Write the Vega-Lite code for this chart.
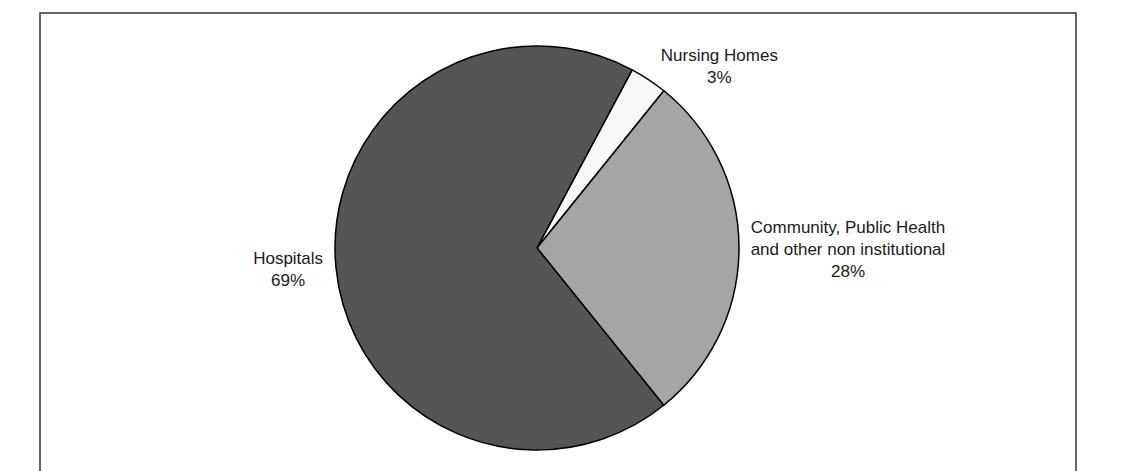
{
  "$schema": "https://vega.github.io/schema/vega-lite/v6.json",
  "width": 1036,
  "height": 470,
  "padding": {"left": 40, "top": 13, "right": 66, "bottom": 0},
  "background": "white",
  "view": {"stroke": "#333333", "strokeWidth": 1.5},
  "config": {
    "view": {"stroke": "#333333", "strokeWidth": 1.5},
    "text": {"font": "Liberation Sans", "fontSize": 17, "fill": "#1a1a1a", "lineHeight": 22, "lineBreak": "\n"}
  },
  "data": {
    "values": [
      {"category": "Nursing Homes", "value": 3.0, "label": "Nursing Homes\n3%"},
      {"category": "Community, Public Health and other non institutional", "value": 28.4, "label": "Community, Public Health\nand other non institutional\n28%"},
      {"category": "Hospitals", "value": 68.6, "label": "Hospitals\n69%"}
    ]
  },
  "transform": [
    {"stack": "value", "groupby": [], "sort": [{"field": "value", "order": "ascending"}], "as": ["v0", "v1"]},
    {"calculate": "(datum.v0 + datum.v1) / 2", "as": "vmid"}
  ],
  "layer": [
    {
      "mark": {"type": "arc", "outerRadius": 202, "stroke": "#000000", "strokeWidth": 1.5, "xOffset": -21},
      "encoding": {
        "theta": {"field": "v0", "type": "quantitative", "scale": {"domain": [0, 100], "range": [0.4904, 6.7736]}},
        "theta2": {"field": "v1"},
        "color": {
          "field": "category",
          "type": "nominal",
          "legend": null,
          "scale": {
            "domain": ["Nursing Homes", "Community, Public Health and other non institutional", "Hospitals"],
            "range": ["#f7f7f7", "#a5a5a5", "#555555"]
          }
        }
      }
    },
    {
      "mark": {"type": "rule", "opacity": 0},
      "encoding": {"x": {"datum": 0, "type": "quantitative", "axis": null, "scale": {"domain": [0, 1]}}}
    },
    {
      "transform": [{"filter": "datum.category == 'Hospitals'"}],
      "mark": {"type": "text", "radius": 250, "align": "center", "baseline": "middle", "xOffset": -21, "dy": -12},
      "encoding": {
        "theta": {"field": "vmid", "type": "quantitative", "scale": {"domain": [0, 100], "range": [0.4904, 6.7736]}},
        "text": {"field": "label", "type": "nominal"}
      }
    },
    {
      "transform": [{"filter": "datum.category == 'Nursing Homes'"}],
      "mark": {"type": "text", "radius": 218, "align": "center", "baseline": "middle", "xOffset": -21, "dx": 62, "dy": -10},
      "encoding": {
        "theta": {"field": "vmid", "type": "quantitative", "scale": {"domain": [0, 100], "range": [0.4904, 6.7736]}},
        "text": {"field": "label", "type": "nominal"}
      }
    },
    {
      "transform": [{"filter": "datum.category != 'Hospitals' && datum.category != 'Nursing Homes'"}],
      "mark": {"type": "text", "radius": 311, "align": "center", "baseline": "middle", "xOffset": -21, "dy": -20},
      "encoding": {
        "theta": {"field": "vmid", "type": "quantitative", "scale": {"domain": [0, 100], "range": [0.4904, 6.7736]}},
        "text": {"field": "label", "type": "nominal"}
      }
    }
  ]
}
